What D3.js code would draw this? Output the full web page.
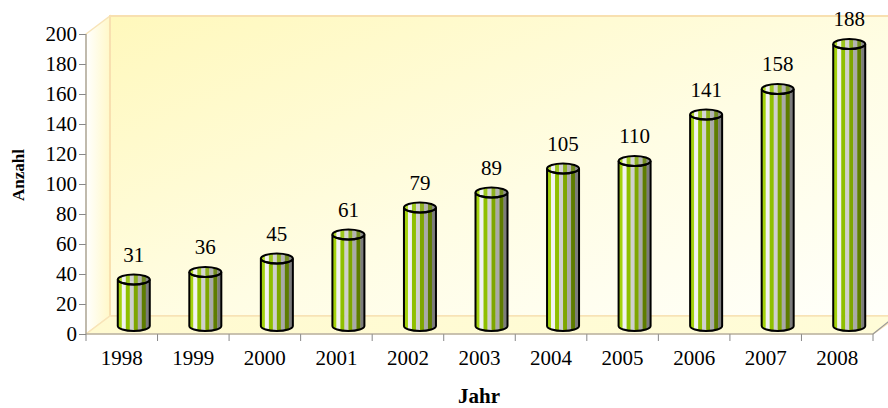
<!DOCTYPE html>
<html>
<head>
<meta charset="utf-8">
<script src="https://cdn.jsdelivr.net/npm/d3@7/dist/d3.min.js"></script>
<style>
  body { margin: 0; background: #fff; }
  svg text { font-family: "Liberation Serif", "Times New Roman", serif; }
</style>
</head>
<body>
<script>
const years = ["1998","1999","2000","2001","2002","2003","2004","2005","2006","2007","2008"];
const counts = [31, 36, 45, 61, 79, 89, 105, 110, 141, 158, 188];
const yTicks = [0, 20, 40, 60, 80, 100, 120, 140, 160, 180, 200];
// stripe colours across a cylinder, left to right
const stripeColors = ["#a4d20e","#f2f2f2","#8fbf00","#cfcfcf","#7ea600","#a9a9a9","#5e7c00","#7c7c7c"];

const width = 888, height = 408;
const depthX = 24, depthY = -18; // 3d box depth

const svg = d3.select("body").append("svg")
  .attr("width", width)
  .attr("height", height);

const x = d3.scaleBand().domain(years).range([86, 873]).padding(0);
const y = d3.scaleLinear().domain([0, 200]).range([334, 34]);

const defs = svg.append("defs");
const wallGrad = defs.append("linearGradient").attr("id", "wall")
  .attr("x1", "0").attr("y1", "0").attr("x2", "1").attr("y2", "1");
wallGrad.append("stop").attr("offset", "0").attr("stop-color", "#fff8bc");
wallGrad.append("stop").attr("offset", "0.55").attr("stop-color", "#fffde4");
wallGrad.append("stop").attr("offset", "1").attr("stop-color", "#fffffa");

const sideGrad = defs.append("linearGradient").attr("id", "side")
  .attr("x1", "0").attr("y1", "0").attr("x2", "1").attr("y2", "0");
sideGrad.append("stop").attr("offset", "0").attr("stop-color", "#ffffff");
sideGrad.append("stop").attr("offset", "1").attr("stop-color", "#fff8c8");

const floorGrad = defs.append("linearGradient").attr("id", "floor")
  .attr("x1", "0").attr("y1", "0").attr("x2", "1").attr("y2", "0");
floorGrad.append("stop").attr("offset", "0").attr("stop-color", "#fffad0");
floorGrad.append("stop").attr("offset", "1").attr("stop-color", "#fffcd8");

const x0 = x.range()[0], x1 = x.range()[1];
const yTop = y(200), yBot = y(0);

// side wall
svg.append("path")
  .attr("d", `M${x0},${yTop} L${x0 + depthX},${yTop + depthY} L${x0 + depthX},${yBot + depthY} L${x0},${yBot} Z`)
  .attr("fill", "url(#side)")
  .attr("stroke", "#f8e4b8").attr("stroke-width", 1.5);

// back wall
svg.append("rect")
  .attr("x", x0 + depthX).attr("y", yTop + depthY)
  .attr("width", width - (x0 + depthX) + 2).attr("height", yBot - yTop)
  .attr("fill", "url(#wall)")
  .attr("stroke", "#f8e0b0").attr("stroke-width", 2);

// floor
svg.append("path")
  .attr("d", `M${x0},${yBot} L${x0 + depthX},${yBot + depthY} L${width + 2},${yBot + depthY} L${width + 2},${yBot - 12} L${x1},${yBot} Z`)
  .attr("fill", "url(#floor)")
  .attr("stroke", "#f8e4b8").attr("stroke-width", 1.5);

// axes
const yAxis = svg.append("g")
  .attr("transform", `translate(${x0},0)`)
  .call(d3.axisLeft(y).tickValues(yTicks).tickSize(7).tickPadding(2));
yAxis.select(".domain").remove();
yAxis.selectAll(".tick line").attr("stroke", "#888");
yAxis.selectAll("text").attr("font-size", 21).attr("fill", "#000")
  .style("font-family", "'Liberation Serif', serif");

svg.append("line")
  .attr("x1", x0).attr("x2", x0).attr("y1", yTop).attr("y2", yBot)
  .attr("stroke", "#999").attr("stroke-width", 1.2);

const xAxis = svg.append("g")
  .attr("transform", `translate(0,${yBot})`)
  .call(d3.axisBottom(x).tickSize(0).tickPadding(16));
xAxis.select(".domain").remove();
xAxis.selectAll("text").attr("font-size", 21).attr("fill", "#000")
  .style("font-family", "'Liberation Serif', serif");

svg.append("g").selectAll("line")
  .data(years.concat(["end"]))
  .enter().append("line")
  .attr("x1", (d, i) => i < years.length ? x(d) : x1)
  .attr("x2", (d, i) => i < years.length ? x(d) : x1)
  .attr("y1", yBot).attr("y2", yBot + 7)
  .attr("stroke", "#888");

svg.append("line")
  .attr("x1", x0).attr("x2", x1).attr("y1", yBot).attr("y2", yBot)
  .attr("stroke", "#999").attr("stroke-width", 1.2);
svg.append("line")
  .attr("x1", x1).attr("x2", width + 2).attr("y1", yBot).attr("y2", yBot - 12 * (width + 2 - x1) / 15)
  .attr("stroke", "#999").attr("stroke-width", 1.2);

// cylinders
const rx = 16, ry = 5;
const offX = depthX / 2, offY = depthY / 2 + 1;
const data = years.map((yr, i) => ({ year: yr, value: counts[i], i: i }));

const bars = svg.append("g").selectAll("g.bar")
  .data(data)
  .enter().append("g").attr("class", "bar");

bars.each(function(d) {
  const g = d3.select(this);
  const cx = x(d.year) + x.bandwidth() / 2 + offX;
  const bot = y(0) + offY;
  const top = y(d.value) + offY;
  const body = `M${cx - rx},${top} L${cx - rx},${bot} A${rx},${ry} 0 0 0 ${cx + rx},${bot} L${cx + rx},${top} A${rx},${ry} 0 0 1 ${cx - rx},${top} Z`;

  const clip = defs.append("clipPath").attr("id", "clip" + d.i);
  clip.append("path").attr("d", body);
  clip.append("ellipse").attr("cx", cx).attr("cy", top).attr("rx", rx).attr("ry", ry);

  const sw = (2 * rx) / stripeColors.length;
  g.append("g").attr("clip-path", `url(#clip${d.i})`)
    .selectAll("rect")
    .data(stripeColors)
    .enter().append("rect")
    .attr("x", (c, k) => cx - rx + k * sw)
    .attr("width", sw + 0.3)
    .attr("y", top - ry - 1)
    .attr("height", bot - top + 2 * ry + 2)
    .attr("fill", c => c);

  g.append("path").attr("d", body)
    .attr("fill", "none").attr("stroke", "#000").attr("stroke-width", 2);
  g.append("ellipse").attr("cx", cx).attr("cy", top).attr("rx", rx).attr("ry", ry)
    .attr("fill", "#fff").attr("fill-opacity", 0.12)
    .attr("stroke", "#000").attr("stroke-width", 2);

  g.append("text")
    .attr("x", cx).attr("y", top - 18)
    .attr("text-anchor", "middle")
    .attr("font-size", 21)
    .text(d.value);
});

// axis titles
svg.append("text")
  .attr("x", 479).attr("y", 403)
  .attr("text-anchor", "middle")
  .attr("font-size", 21).attr("font-weight", "bold")
  .text("Jahr");

svg.append("text")
  .attr("transform", "translate(24,175) rotate(-90)")
  .attr("text-anchor", "middle")
  .attr("font-size", 17).attr("font-weight", "bold")
  .text("Anzahl");
</script>
</body>
</html>
